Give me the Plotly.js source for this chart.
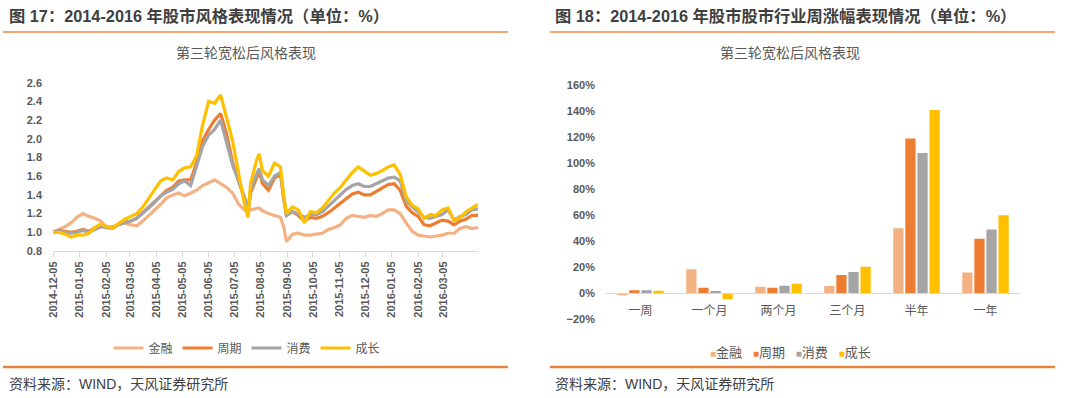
<!DOCTYPE html>
<html>
<head>
<meta charset="utf-8">
<script src="https://cdn.plot.ly/plotly-3.0.1.min.js"></script>
<style>
html,body{margin:0;padding:0;background:#fff;}
#chart{width:1080px;height:398px;}
</style>
</head>
<body>
<div id="chart"></div>
<script>
// ---------- Figure 17: style performance (index, start = 1.0) ----------
const dates = ['2014-12-05','2014-12-12','2014-12-19','2014-12-26','2015-01-02','2015-01-09','2015-01-16','2015-01-23','2015-01-30','2015-02-06','2015-02-13','2015-02-20','2015-02-27','2015-03-06','2015-03-13','2015-03-20','2015-03-27','2015-04-03','2015-04-10','2015-04-17','2015-04-24','2015-05-01','2015-05-08','2015-05-15','2015-05-22','2015-05-29','2015-06-05','2015-06-12','2015-06-19','2015-06-26','2015-07-03','2015-07-10','2015-07-17','2015-07-21','2015-07-24','2015-07-31','2015-08-03','2015-08-07','2015-08-14','2015-08-21','2015-08-28','2015-09-01','2015-09-04','2015-09-11','2015-09-18','2015-09-25','2015-10-02','2015-10-09','2015-10-16','2015-10-23','2015-10-30','2015-11-06','2015-11-13','2015-11-20','2015-11-27','2015-12-04','2015-12-11','2015-12-18','2015-12-25','2016-01-01','2016-01-08','2016-01-15','2016-01-22','2016-01-29','2016-02-05','2016-02-12','2016-02-19','2016-02-26','2016-03-04','2016-03-11','2016-03-18','2016-03-25','2016-04-01','2016-04-08','2016-04-15'];

const finance  = [1.00,1.03,1.06,1.10,1.16,1.20,1.17,1.15,1.12,1.05,1.04,1.09,1.10,1.08,1.07,1.12,1.18,1.23,1.30,1.37,1.40,1.42,1.39,1.42,1.45,1.50,1.53,1.56,1.52,1.48,1.42,1.30,1.24,1.21,1.24,1.26,1.26,1.23,1.20,1.18,1.16,1.05,0.90,0.98,0.99,0.97,0.97,0.98,0.99,1.03,1.05,1.08,1.15,1.18,1.17,1.16,1.18,1.17,1.20,1.24,1.24,1.20,1.10,1.01,0.97,0.96,0.95,0.96,0.97,0.99,0.99,1.04,1.06,1.04,1.05];
const cyclical = [1.00,1.02,1.01,1.00,1.01,1.03,1.01,1.05,1.07,1.05,1.05,1.09,1.11,1.12,1.15,1.21,1.28,1.33,1.40,1.45,1.48,1.55,1.56,1.56,1.75,1.98,2.10,2.20,2.27,2.05,1.75,1.55,1.35,1.20,1.42,1.58,1.66,1.52,1.45,1.58,1.62,1.35,1.18,1.22,1.18,1.12,1.16,1.15,1.17,1.21,1.26,1.31,1.37,1.41,1.43,1.40,1.40,1.44,1.47,1.51,1.52,1.45,1.28,1.21,1.17,1.08,1.07,1.10,1.13,1.12,1.08,1.12,1.14,1.18,1.18];
const consumer = [1.00,1.01,1.00,0.99,1.00,1.02,1.00,1.03,1.06,1.05,1.06,1.08,1.10,1.12,1.15,1.20,1.26,1.32,1.39,1.43,1.46,1.52,1.55,1.50,1.70,1.92,2.04,2.10,2.20,1.95,1.72,1.55,1.38,1.24,1.45,1.62,1.68,1.56,1.50,1.60,1.64,1.36,1.18,1.22,1.20,1.16,1.19,1.19,1.22,1.28,1.34,1.40,1.46,1.50,1.52,1.49,1.49,1.52,1.55,1.58,1.59,1.55,1.33,1.27,1.22,1.16,1.15,1.17,1.19,1.24,1.13,1.17,1.19,1.24,1.25];
const growth   = [1.00,1.00,0.98,0.95,0.97,0.97,0.99,1.05,1.09,1.06,1.05,1.10,1.14,1.17,1.20,1.27,1.37,1.46,1.55,1.58,1.56,1.65,1.69,1.70,1.82,2.15,2.40,2.38,2.47,2.22,1.98,1.63,1.30,1.16,1.52,1.77,1.84,1.66,1.60,1.74,1.70,1.38,1.20,1.27,1.24,1.10,1.22,1.21,1.26,1.34,1.42,1.48,1.56,1.64,1.70,1.65,1.61,1.63,1.66,1.70,1.72,1.62,1.38,1.29,1.25,1.15,1.19,1.18,1.24,1.26,1.13,1.16,1.22,1.26,1.30];

const tickDates = ['2014-12-05','2015-01-05','2015-02-05','2015-03-05','2015-04-05','2015-05-05','2015-06-05','2015-07-05','2015-08-05','2015-09-05','2015-10-05','2015-11-05','2015-12-05','2016-01-05','2016-02-05','2016-03-05'];

// ---------- Figure 18: period returns ----------
const periods   = ['一周','一个月','两个月','三个月','半年','一年'];
const finRet    = [-0.015, 0.185, 0.051, 0.056, 0.50, 0.16];
const cycRet    = [0.023, 0.043, 0.043, 0.141, 1.19, 0.42];
const conRet    = [0.023, 0.018, 0.059, 0.164, 1.08, 0.49];
const groRet    = [0.020, -0.046, 0.074, 0.205, 1.41, 0.60];

const seriesNames = ['金融','周期','消费','成长'];
const colors = ['#F4B183','#ED7D31','#A5A5A5','#FFC000'];

const W = 1080, H = 398;
const px = v => v / W;
const py = v => (H - v) / H;

const FONT = '"Liberation Sans", "Noto Sans CJK SC", sans-serif';
const GREY = '#595959';

const lineSeries = [finance, cyclical, consumer, growth];
const traces = [];
lineSeries.forEach((s, i) => {
  traces.push({
    type: 'scatter', mode: 'lines', x: dates, y: s, name: seriesNames[i],
    xaxis: 'x', yaxis: 'y', line: {color: colors[i], width: 3.2}, legend: 'legend'
  });
});
const barSeries = [finRet, cycRet, conRet, groRet];
barSeries.forEach((s, i) => {
  traces.push({
    type: 'bar', x: periods, y: s, name: seriesNames[i], showlegend: false,
    xaxis: 'x2', yaxis: 'y2', marker: {color: colors[i]}
  });
});

// compact legend for the bar chart (small squares right before the text)
const barLegendText = seriesNames.map((n, i) =>
  '<span style="color:' + colors[i] + ';font-size:10px">■</span>' + n).join('&nbsp;&nbsp;&nbsp;');

const tickFont = {family: FONT, size: 11, color: GREY, weight: 'bold'};

const layout = {
  width: W, height: H,
  margin: {l: 0, r: 0, t: 0, b: 0},
  paper_bgcolor: '#fff', plot_bgcolor: '#fff',
  font: {family: FONT, color: GREY},
  showlegend: true,
  barmode: 'group', bargap: 0.3, bargroupgap: 0.15,
  xaxis: {
    type: 'date', domain: [px(53), px(478)], range: ['2014-12-05', '2016-04-15'],
    anchor: 'y', tickvals: tickDates, tickformat: '%Y-%m-%d', tickangle: -90,
    ticks: 'outside', ticklen: 5, tickcolor: '#D9D9D9', showline: true,
    linecolor: '#D9D9D9', linewidth: 1, showgrid: false, zeroline: false,
    tickfont: tickFont
  },
  yaxis: {
    domain: [py(251), py(82.7)], range: [0.8, 2.6], dtick: 0.2, tick0: 0.8,
    tickformat: '.1f', anchor: 'x', showline: false, showgrid: false,
    zeroline: false, ticks: '', ticklabelstandoff: 10, tickfont: tickFont
  },
  xaxis2: {
    type: 'category', domain: [px(606), px(1020)], anchor: 'free', position: py(293.3),
    showline: true, linecolor: '#D9D9D9', linewidth: 1, ticks: '', showgrid: false,
    ticklabelstandoff: 6,
    tickfont: {family: FONT, size: 12, color: GREY}
  },
  yaxis2: {
    domain: [py(319.3), py(85.3)], range: [-0.2, 1.6], dtick: 0.2, tick0: 0,
    tickformat: '.0%', anchor: 'x2', showline: false, showgrid: false,
    zeroline: false, ticks: '', ticklabelstandoff: 10, tickfont: tickFont
  },
  legend: {
    orientation: 'h', x: px(247), xanchor: 'center', y: py(348), yanchor: 'middle',
    font: {family: FONT, size: 12, color: GREY}, bgcolor: 'rgba(0,0,0,0)'
  },
  shapes: [
    {type: 'line', xref: 'paper', yref: 'paper', x0: px(3), x1: px(508), y0: py(32), y1: py(32), line: {color: '#EE8A45', width: 1.5}},
    {type: 'line', xref: 'paper', yref: 'paper', x0: px(550), x1: px(1055), y0: py(32), y1: py(32), line: {color: '#EE8A45', width: 1.5}},
    {type: 'line', xref: 'paper', yref: 'paper', x0: px(3), x1: px(508), y0: py(367), y1: py(367), line: {color: '#E9823A', width: 2.5}},
    {type: 'line', xref: 'paper', yref: 'paper', x0: px(550), x1: px(1055), y0: py(367), y1: py(367), line: {color: '#E9823A', width: 2.5}}
  ],
  annotations: [
    {text: '图 17：2014-2016 年股市风格表现情况（单位：%）', xref: 'paper', yref: 'paper', x: px(7), y: py(16), xanchor: 'left', yanchor: 'middle', showarrow: false, font: {family: FONT, size: 16.3, color: '#404040', weight: 'bold'}},
    {text: '图 18：2014-2016 年股市股市行业周涨幅表现情况（单位：%）', xref: 'paper', yref: 'paper', x: px(553), y: py(16), xanchor: 'left', yanchor: 'middle', showarrow: false, font: {family: FONT, size: 16.3, color: '#404040', weight: 'bold'}},
    {text: '第三轮宽松后风格表现', xref: 'paper', yref: 'paper', x: px(246), y: py(53), xanchor: 'center', yanchor: 'middle', showarrow: false, font: {family: FONT, size: 14, color: GREY}},
    {text: '第三轮宽松后风格表现', xref: 'paper', yref: 'paper', x: px(790), y: py(53), xanchor: 'center', yanchor: 'middle', showarrow: false, font: {family: FONT, size: 14, color: GREY}},
    {text: barLegendText, xref: 'paper', yref: 'paper', x: px(790), y: py(352), xanchor: 'center', yanchor: 'middle', showarrow: false, font: {family: FONT, size: 13, color: GREY}},
    {text: '资料来源：WIND，天风证券研究所', xref: 'paper', yref: 'paper', x: px(7), y: py(384), xanchor: 'left', yanchor: 'middle', showarrow: false, font: {family: FONT, size: 14, color: '#404040'}},
    {text: '资料来源：WIND，天风证券研究所', xref: 'paper', yref: 'paper', x: px(553), y: py(384), xanchor: 'left', yanchor: 'middle', showarrow: false, font: {family: FONT, size: 14, color: '#404040'}}
  ]
};

Plotly.newPlot('chart', traces, layout, {displayModeBar: false, staticPlot: true});
</script>
</body>
</html>
